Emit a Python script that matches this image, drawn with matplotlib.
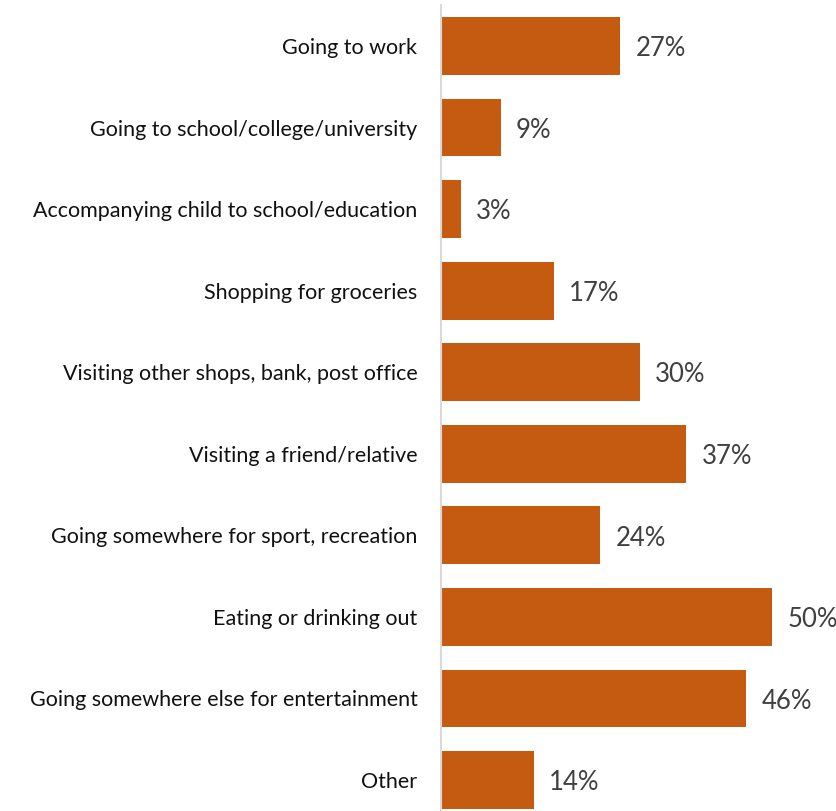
import matplotlib
matplotlib.use("Agg")
import matplotlib.pyplot as plt

plt.rcParams["font.family"] = ["Lato", "DejaVu Sans"]

categories = [
    "Going to work",
    "Going to school/college/university",
    "Accompanying child to school/education",
    "Shopping for groceries",
    "Visiting other shops, bank, post office",
    "Visiting a friend/relative",
    "Going somewhere for sport, recreation",
    "Eating or drinking out",
    "Going somewhere else for entertainment",
    "Other",
]
shares = [27, 9, 3, 17, 30, 37, 24, 50, 46, 14]

BAR_COLOR = "#C55A11"
W, H, DPI = 837, 811, 100

fig = plt.figure(figsize=(W / DPI, H / DPI), dpi=DPI)
left_px, top_px = 441, 5
ax = fig.add_axes([left_px / W, 0, 1 - left_px / W, 1 - top_px / H])

y = list(range(len(categories)))
ax.barh(y, shares, height=0.71, color=BAR_COLOR, zorder=2)

# 6.63 px per percentage point, centres 81.6 px apart
ax.set_xlim(0, (W - left_px) / 6.63)
ax.set_ylim(9 + (H - 780) / 81.6, -(46 - top_px) / 81.6)

for yi, v in zip(y, shares):
    ax.annotate(f"{v}%", (v, yi), xytext=(11, -2), textcoords="offset points",
                ha="left", va="center", fontsize=18.5, color="#404040")

ax.set_yticks(y)
ax.set_yticklabels(categories, fontsize=15.5, color="#111111")
ax.tick_params(axis="y", length=0, pad=17)
ax.set_xticks([])

for side in ("top", "right", "bottom"):
    ax.spines[side].set_visible(False)
ax.spines["left"].set_color("#D9D9D9")
ax.spines["left"].set_linewidth(1.5)

fig.savefig("out.png", dpi=DPI)
